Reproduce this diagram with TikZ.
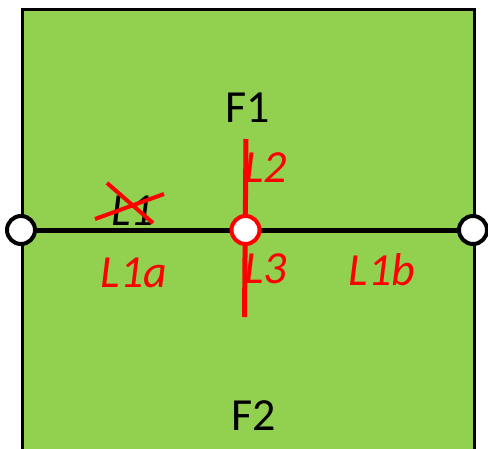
\documentclass[tikz,border=0pt]{standalone}
\usepackage{fontspec}
\setmainfont{Carlito}
\usetikzlibrary{positioning}
\definecolor{facegreen}{RGB}{146,208,80}
\definecolor{edgered}{RGB}{255,0,0}
\tikzset{
    facebox/.style={draw=black, line width=3pt, fill=facegreen},
    vertex/.style={circle, draw=black, fill=white, line width=4pt, minimum size=28pt, inner sep=0pt},
    newvertex/.style={vertex, draw=edgered},
    oldedge/.style={black, line width=5pt},
    newedge/.style={edgered, line width=5pt},
    strike/.style={edgered, line width=4pt},
    facelabel/.style={anchor=base, inner sep=0pt, font=\fontsize{46}{50}\selectfont, text=black},
    edgelabel/.style={anchor=base, inner sep=0pt, font=\fontsize{46}{50}\selectfont\itshape, text=edgered},
}

\begin{document}
\begin{tikzpicture}[x=1pt, y=-1pt]
\useasboundingbox (0,0) rectangle (488,448);
\clip (0,0) rectangle (488,448);

% faces
\draw[facebox] (22,9) rectangle (474,470);
\node[facelabel] (f1) at (248,122) {F1};
\node[facelabel] (f2) at (254,430) {F2};

% vertices
\node[vertex] (v-left) at (21,230) {};
\node[vertex] (v-right) at (473,230) {};
\coordinate (v-mid-pos) at (245.5,230);

% edges
\draw[oldedge] (v-left) -- (v-right);
\coordinate (l2-end) at (246,139);
\coordinate (l3-end) at (244.5,317);
\draw[newedge] (l2-end) -- (l3-end);
\node[newvertex] (v-mid) at (v-mid-pos) {};

% labels
\node[anchor=base, inner sep=0pt, font=\fontsize{46}{50}\selectfont\itshape] (l1) at (133,225) {L1};
\draw[strike] ([xshift=-38pt, yshift=6pt]l1.base) -- ([xshift=31pt, yshift=31pt]l1.base);
\draw[strike] ([xshift=-26pt, yshift=42pt]l1.base) -- ([xshift=20pt, yshift=2pt]l1.base);
\node[edgelabel] (l2) at (266,182) {L2};
\node[edgelabel] (l3) at (266,283) {L3};
\node[edgelabel] (l1a) at (134,287) {L1a};
\node[edgelabel] (l1b) at (382,285) {L1b};

\end{tikzpicture}
\end{document}
